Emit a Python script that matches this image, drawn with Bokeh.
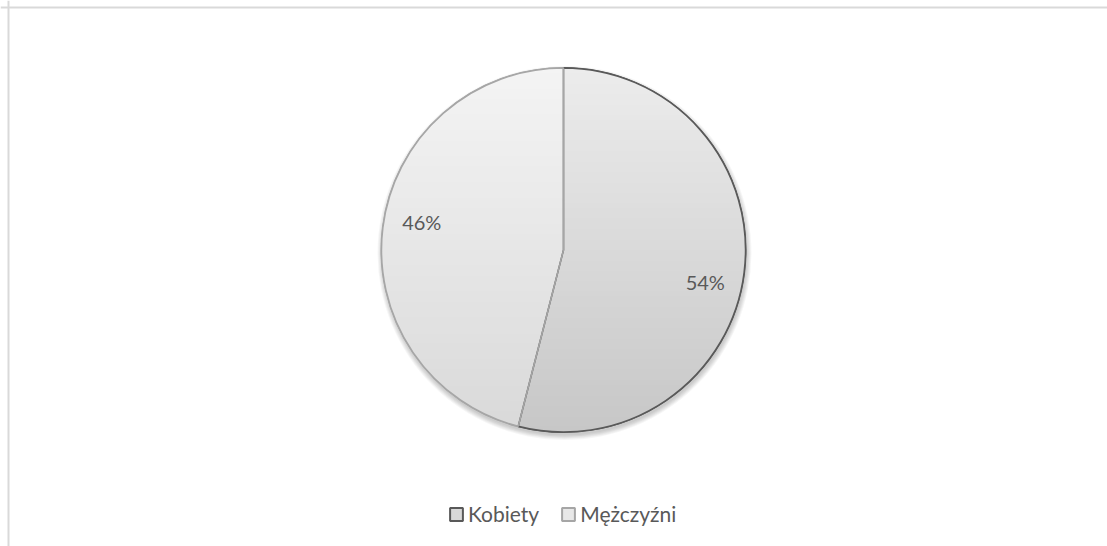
import numpy as np
from bokeh.plotting import figure
from bokeh.models import Range1d, Span, ColumnDataSource, Legend, LegendItem
from bokeh.core.properties import value
from bokeh.embed import file_html
from bokeh.resources import INLINE

# ---- data ----
categories = ["Kobiety", "Mężczyźni"]
shares = [54, 46]
labels = ["54%", "46%"]

# ---- styles ----
W, H = 1107, 546
CX, CY, R = 563.0, 296.5, 182.0
FONT = "Lato"
TXT = "#595959"
outline_colors = ["#595959", "#a6a6a6"]
legend_fill = ["#d9d9d9", "#e8e8e8"]
grad_top = [(0xec, 0xec, 0xec), (0xf4, 0xf4, 0xf4)]
grad_bot = [(0xc7, 0xc7, 0xc7), (0xd9, 0xd9, 0xd9)]
label_r = [0.785, 0.785]
label_dy = [14.5, -10.5]  # screen px shift (down positive)

p = figure(width=W, height=H, x_range=Range1d(0, W), y_range=Range1d(0, H),
           output_backend="svg", toolbar_location=None, min_border=0,
           outline_line_color=None, background_fill_color="white")
p.axis.visible = False
p.grid.visible = False

# chart border (left & top)
p.add_layout(Span(location=8, dimension="height", line_color="#d9d9d9", line_width=2))
p.add_layout(Span(location=H - 7, dimension="width", line_color="#d9d9d9", line_width=2))

# angles (clockwise from top)
total = float(sum(shares))
fr = np.array(shares) / total
starts = np.pi / 2 - 2 * np.pi * np.concatenate([[0], np.cumsum(fr)[:-1]])
ends = starts - 2 * np.pi * fr
mids = (starts + ends) / 2

# soft shadow
for k in range(6):
    p.circle(x=[CX + 1], y=[CY - 3], radius=R + 0.5 + k * 0.9,
             fill_color="black", fill_alpha=0.035, line_color=None)

src = ColumnDataSource(dict(x=[CX] * 2, y=[CY] * 2, start=starts, end=ends,
                            cat=categories, fill=legend_fill, line=outline_colors))
base = p.wedge(x="x", y="y", radius=R, start_angle="start", end_angle="end",
               direction="clock", source=src, fill_color="fill",
               line_color="line", line_width=2)


def clip(poly, yv, keep_above):
    out = []
    n = len(poly)
    for i in range(n):
        a = poly[i]
        b = poly[(i + 1) % n]
        ina = a[1] >= yv if keep_above else a[1] <= yv
        inb = b[1] >= yv if keep_above else b[1] <= yv
        if ina:
            out.append(a)
        if ina != inb:
            t = (yv - a[1]) / (b[1] - a[1])
            out.append((a[0] + t * (b[0] - a[0]), yv))
    return out


# gradient bands
xs, ys, cols = [], [], []
nb = 70
bh = 2 * R / nb
for s in range(len(shares)):
    ang = np.linspace(starts[s], ends[s], 200)
    poly = [(CX, CY)] + [(CX + R * np.cos(a), CY + R * np.sin(a)) for a in ang]
    for i in range(nb):
        y0 = CY - R + i * bh
        y1 = y0 + bh + 0.8
        pc = clip(clip(poly, y0, True), y1, False)
        if len(pc) < 3:
            continue
        t = (y0 + bh / 2 - (CY - R)) / (2 * R)
        c = tuple(int(round(grad_bot[s][j] + t * (grad_top[s][j] - grad_bot[s][j]))) for j in range(3))
        xs.append([q[0] for q in pc])
        ys.append([q[1] for q in pc])
        cols.append("#%02x%02x%02x" % c)
p.patches(xs=xs, ys=ys, fill_color=cols, line_color=None)

# outlines (women first, men on top)
for s in range(len(shares)):
    p.wedge(x=[CX], y=[CY], radius=R, start_angle=starts[s], end_angle=ends[s],
            direction="clock", fill_color=None, line_color=outline_colors[s], line_width=1.5)

# data labels
lx = CX + np.array(label_r) * R * np.cos(mids)
ly = CY + np.array(label_r) * R * np.sin(mids) - np.array(label_dy)
p.text(x=lx, y=ly, text=labels, text_font=value(FONT), text_font_size="20px",
       text_color=TXT, text_align="center", text_baseline="middle")

legend = Legend(items=[LegendItem(label=categories[i], renderers=[base], index=i) for i in range(2)],
                orientation="horizontal", location=(448, 20), glyph_width=16, glyph_height=16,
                label_text_font=FONT, label_text_font_size="21px", label_text_color=TXT,
                border_line_color=None, background_fill_alpha=0, padding=0, margin=0,
                spacing=21, label_standoff=4)
p.add_layout(legend)

open("out.html", "w").write(file_html(p, INLINE))
